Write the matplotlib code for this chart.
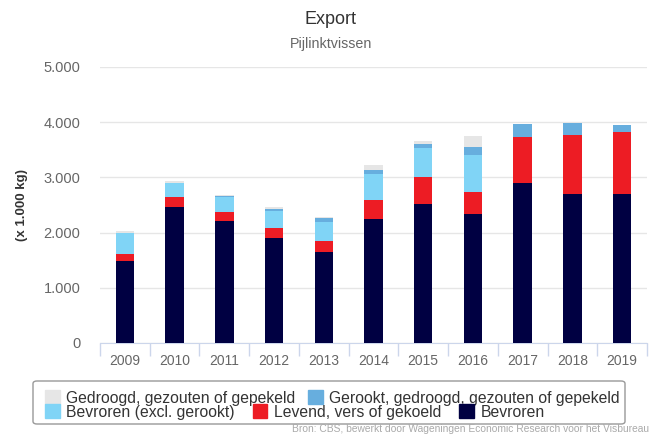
import matplotlib.pyplot as plt
from matplotlib.patches import Patch, FancyBboxPatch

# data (x 1.000 kg)
jaren = ['2009', '2010', '2011', '2012', '2013', '2014', '2015', '2016', '2017', '2018', '2019']
bevroren = [1485, 2467, 2206, 1909, 1648, 2248, 2527, 2345, 2891, 2691, 2691]
levend = [121, 181, 164, 182, 200, 340, 479, 388, 842, 1079, 1139]
bevroren_excl = [382, 243, 278, 303, 340, 479, 521, 679, 0, 0, 0]
gerookt = [10, 12, 10, 36, 85, 60, 85, 140, 237, 218, 122]
gedroogd = [32, 30, 15, 25, 18, 103, 43, 200, 0, 0, 0]

series = [
    ('Bevroren', bevroren, '#000042'),
    ('Levend, vers of gekoeld', levend, '#ed1c24'),
    ('Bevroren (excl. gerookt)', bevroren_excl, '#80d4f6'),
    ('Gerookt, gedroogd, gezouten of gepekeld', gerookt, '#67aede'),
    ('Gedroogd, gezouten of gepekeld', gedroogd, '#e6e6e6'),
]
kleur = {naam: k for naam, _, k in series}

plt.rcParams['font.family'] = ['Liberation Sans', 'DejaVu Sans']

fig = plt.figure(figsize=(6.54, 4.34), dpi=100)
ax = fig.add_axes([100 / 654, 1 - 343 / 434, 547 / 654, 276 / 434])

x = list(range(len(jaren)))
onder = [0] * len(jaren)
for naam, waarden, k in series:
    ax.bar(x, waarden, bottom=onder, width=0.37, color=k, edgecolor='none', zorder=3)
    onder = [o + w for o, w in zip(onder, waarden)]

ax.set_xlim(-0.5, len(jaren) - 0.5)
ax.set_ylim(0, 5000)
ax.set_yticks([0, 1000, 2000, 3000, 4000, 5000])
ax.set_yticklabels(['0', '1.000', '2.000', '3.000', '4.000', '5.000'])
ax.grid(axis='y', color='#e6e6e6', linewidth=1, zorder=0)
ax.set_xticks(x)
ax.set_xticklabels(jaren)
ax.set_xticks([i - 0.5 for i in range(len(jaren) + 1)], minor=True)
ax.tick_params(axis='x', which='major', length=0, pad=8, labelsize=10, labelcolor='#666666')
ax.tick_params(axis='x', which='minor', length=9, color='#ccd6eb', width=1)
ax.tick_params(axis='y', length=0, pad=14, labelsize=10.5, labelcolor='#666666')
for s in ['top', 'right', 'left']:
    ax.spines[s].set_visible(False)
ax.spines['bottom'].set_color('#ccd6eb')

fig.text(22 / 654, 1 - 205 / 434, '(x 1.000 kg)', rotation=90, ha='center', va='center',
         fontsize=9.5, fontweight='bold', color='#333333')

fig.text(331 / 654, 1 - 19 / 434, 'Export', ha='center', va='center', fontsize=13, color='#333333')
fig.text(331 / 654, 1 - 44 / 434, 'Pijlinktvissen', ha='center', va='center', fontsize=10.3, color='#666666')

# legend box with two rows
fig.patches.append(FancyBboxPatch((33 / 654, 1 - 424 / 434), 592 / 654, 43 / 434,
                                  boxstyle='round,pad=0,rounding_size=0.006',
                                  transform=fig.transFigure, facecolor='white',
                                  edgecolor='#999999', linewidth=1))

rij1 = ['Gedroogd, gezouten of gepekeld', 'Gerookt, gedroogd, gezouten of gepekeld']
rij2 = ['Bevroren (excl. gerookt)', 'Levend, vers of gekoeld', 'Bevroren']
for rij, yy, cs in [(rij1, 1 - 398 / 434, 0.8), (rij2, 1 - 412 / 434, 1.15)]:
    handles = [Patch(color=kleur[n], label=n) for n in rij]
    fig.legend(handles=handles, loc='center left', bbox_to_anchor=(37 / 654, yy),
               ncol=len(rij), frameon=False, fontsize=11.3, handlelength=0.95,
               handleheight=0.95, handletextpad=0.4, columnspacing=cs,
               borderpad=0, labelcolor='#333333')

fig.text(292 / 654, 1 - 429 / 434, 'Bron: CBS, bewerkt door Wageningen Economic Research voor het Visbureau',
         ha='left', va='center', fontsize=7.4, color='#aaaaaa')

fig.savefig('out.png', dpi=100)
